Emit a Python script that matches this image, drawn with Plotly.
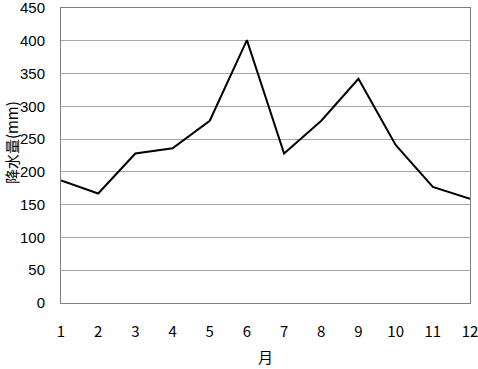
import plotly.graph_objects as go

months = [1, 2, 3, 4, 5, 6, 7, 8, 9, 10, 11, 12]
rainfall = [187, 167, 228, 236, 278, 401, 228, 278, 342, 241, 177, 159]
y_ticks = [0, 50, 100, 150, 200, 250, 300, 350, 400, 450]
x_title = "月"
y_title = "降水量(mm)"

font_family = "Noto Sans CJK JP, Noto Sans, sans-serif"
num_font = "Liberation Sans, Arial, sans-serif"

fig = go.Figure()
fig.add_trace(go.Scatter(
    x=months, y=rainfall, mode="lines",
    line=dict(color="black", width=2),
    showlegend=False,
))

fig.update_layout(
    width=478, height=369,
    margin=dict(l=61, r=8, t=8, b=66, autoexpand=False),
    paper_bgcolor="white", plot_bgcolor="white",
    font=dict(family=font_family, size=15, color="black"),
    xaxis=dict(
        range=[1, 12], tickvals=months, ticktext=[str(m) for m in months],
        automargin=False, ticklabeloverflow="allow",
        showgrid=False, zeroline=False,
        showline=True, linecolor="#808080", linewidth=1, mirror=True,
        ticks="outside", ticklen=15, tickcolor="rgba(0,0,0,0)",
        tickfont=dict(size=15),
        title=dict(text=x_title, standoff=12, font=dict(size=15)),
    ),
    yaxis=dict(
        range=[0, 450], tickvals=y_ticks, ticktext=[str(v) for v in y_ticks],
        automargin=False, ticklabeloverflow="allow",
        showgrid=True, gridcolor="#a6a6a6", gridwidth=1, zeroline=False,
        showline=True, linecolor="#808080", linewidth=1, mirror=True,
        ticks="outside", ticklen=12, tickcolor="rgba(0,0,0,0)",
        tickfont=dict(family=num_font, size=15),
    ),
    annotations=[dict(
        text=y_title, xref="paper", yref="paper", x=0, y=0.542,
        xanchor="center", yanchor="middle", xshift=-50, textangle=-90,
        showarrow=False, font=dict(size=15),
    )],
)

fig.write_html("out.html")
